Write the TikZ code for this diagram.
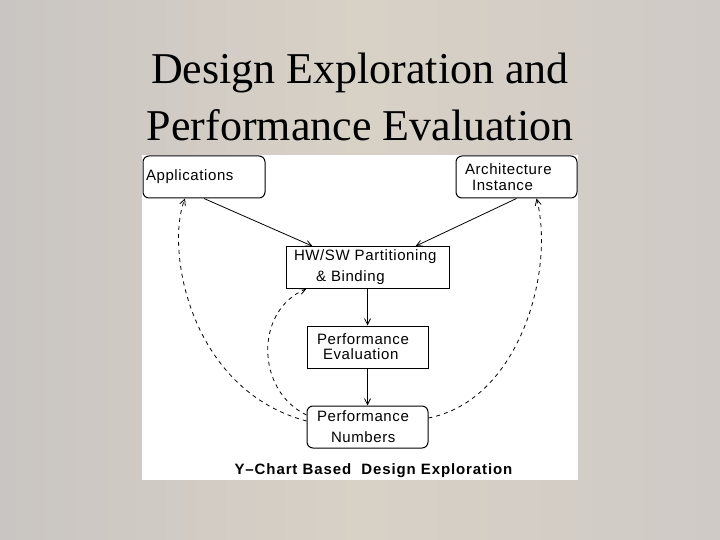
\documentclass[tikz,border=0pt]{standalone}
\usepackage{fontspec}
\setmainfont{Liberation Serif}
\newfontfamily\chartfont[LetterSpace=4]{Liberation Sans}
\newfontfamily\capfont[LetterSpace=6]{Liberation Sans}
\usetikzlibrary{arrows.meta}
\definecolor{bgleft}{HTML}{C9C5C2}
\definecolor{bgmid}{HTML}{D8D1C6}
\definecolor{bgright}{HTML}{CFCAC6}

\begin{document}
\begin{tikzpicture}[x=1pt,y=-1pt,>={Straight Barb[length=6pt,width=6pt]},
		box_style/.style={draw=black,line width=1pt,fill=white,minimum height=42pt,inner xsep=3pt,align=left,font=\chartfont\fontsize{15}{21}\selectfont},
		round_style/.style={box_style,rounded corners=6pt},
		edge_style/.style={draw=black,line width=0.8pt,->},
		dash_style/.style={edge_style,dash pattern=on 4pt off 4pt}]
		
		\useasboundingbox (0,0) rectangle (720,540);
		\shade[left color=bgleft,right color=bgright,middle color=bgmid] (0,0) rectangle (720,540);
		\fill[white] (142,155) rectangle (578,480);
		
		\node[font=\fontsize{44}{57}\selectfont,align=center] (title) at (360,96.5) {Design Exploration and\\Performance Evaluation};
		
		\node[round_style,text width=116pt] (apps) at (204,177) {Applications};
		\node[round_style,text width=115pt,font=\chartfont\fontsize{15}{16}\selectfont] (arch) at (516.5,177) {\hspace*{6pt}Architecture\\\hspace*{13pt}Instance};
		\node[box_style,text width=157pt,minimum height=41pt] (hw) at (367.5,267.5) {\hspace*{5pt}HW/SW Partitioning\\\hspace*{27pt}\& Binding};
		\node[box_style,text width=115pt,font=\chartfont\fontsize{15}{15}\selectfont] (pe) at (367.5,347) {\hspace*{7pt}Performance\\\hspace*{13pt}Evaluation};
		\node[round_style,text width=115pt] (pn) at (367.5,427) {\hspace*{7pt}Performance\\\hspace*{21pt}Numbers};
		\node[font=\capfont\bfseries\fontsize{15}{18}\selectfont] (caption) at (373.5,471) {Y–Chart Based\ \ Design Exploration};
		
		\draw[edge_style] (apps.south) -- ([xshift=27pt]hw.north west);
		\draw[edge_style] (arch.south) -- ([xshift=-34pt]hw.north east);
		\draw[edge_style] (hw.south) -- (pe.north);
		\draw[edge_style] (pe.south) -- (pn.north);
		
		\draw[dash_style] ([yshift=6pt]pn.west) .. controls (190,390) and (165,250) .. ([xshift=-19pt]apps.south);
		\draw[dash_style] ([yshift=12pt]pn.west) .. controls (255,390) and (255,310) .. ([xshift=21pt]hw.south west);
		\draw[dash_style] ([yshift=9pt]pn.east) .. controls (520,400) and (555,270) .. ([xshift=20pt]arch.south);
		
\end{tikzpicture}
\end{document}
